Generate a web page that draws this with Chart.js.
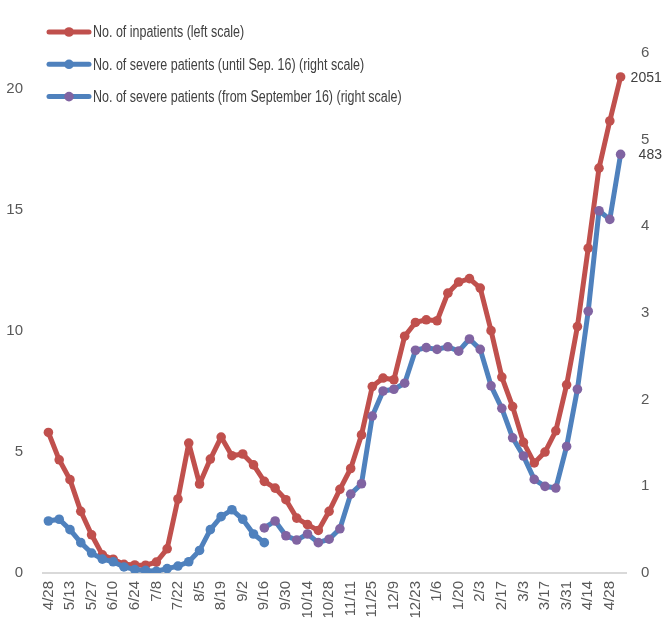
<!DOCTYPE html>
<html>
<head>
<meta charset="utf-8">
<title>Inpatients and severe patients</title>
<script src="https://cdn.jsdelivr.net/npm/chart.js@4/dist/chart.umd.min.js"></script>
<style>
  html, body { margin: 0; padding: 0; background: #fff; }
  #wrap { width: 666px; height: 620px; }
</style>
</head>
<body>
<div id="wrap"><canvas id="chart" width="666" height="620"></canvas></div>
<script>
  'use strict';

  // Every other week gets a tick label
  const weekTicks = ['4/28', '5/13', '5/27', '6/10', '6/24', '7/8', '7/22', '8/5', '8/19', '9/2',
    '9/16', '9/30', '10/14', '10/28', '11/11', '11/25', '12/9', '12/23', '1/6', '1/20',
    '2/3', '2/17', '3/3', '3/17', '3/31', '4/14', '4/28'];

  // Axis ticks, in people (labels show hundreds)
  const leftTicks = [0, 500, 1000, 1500, 2000];
  const rightTicks = [0, 100, 200, 300, 400, 500, 600];

  // Weekly counts (people)
  const inpatients = [581, 468, 386, 255, 158, 75, 57, 36, 33, 32,
    45, 100, 306, 537, 368, 471, 562, 485, 492, 447,
    379, 351, 303, 227, 200, 176, 255, 346, 432, 571,
    771, 806, 799, 979, 1036, 1047, 1043, 1157, 1203, 1217,
    1178, 1002, 810, 688, 540, 455, 500, 588, 778, 1019,
    1343, 1674, 1869, 2051];

  const severeOld = [60, 62, 50, 35, 23, 16, 13, 7, 4, 3,
    2, 5, 8, 13, 26, 50, 65, 73, 62, 45,
    35];

  const severeNew = [null, null, null, null, null, null, null, null, null, null,
    null, null, null, null, null, null, null, null, null, null,
    52, 60, 43, 38, 45, 35, 39, 51, 91, 103,
    181, 210, 212, 219, 257, 260, 258, 261, 256, 270,
    258, 216, 190, 156, 135, 108, 100, 98, 146, 212,
    302, 418, 408, 483];

  const seriesNames = [
    'No. of inpatients (left scale)',
    'No. of severe patients (until Sep. 16) (right scale)',
    'No. of severe patients (from September 16) (right scale)'
  ];

  const RED = '#C0504D';
  const BLUE = '#4F81BD';
  const PURPLE = '#8064A2';

  // 54 weekly categories, labelled on the even weeks only
  const weeks = [];
  for (let i = 0; i < inpatients.length; i++) {
    weeks.push(i % 2 === 0 ? weekTicks[i / 2] : '');
  }

  const LINE_W = 5;
  const POINT_R = 4.8;

  function lineDataset(label, data, line, point, axis, order, extra) {
    return Object.assign({
      label: label,
      data: data,
      yAxisID: axis,
      order: order,
      borderColor: line,
      backgroundColor: point,
      pointBackgroundColor: point,
      pointBorderColor: point,
      borderWidth: LINE_W,
      pointRadius: POINT_R,
      pointBorderWidth: 0,
      borderJoinStyle: 'round',
      borderCapStyle: 'round',
      tension: 0,
      spanGaps: false
    }, extra || {});
  }

  /**
   * Key in the top left: line sample with marker, then the name
   * (text squeezed horizontally to get a narrow face)
   */
  const seriesKey = {
    id: 'seriesKey',
    afterDraw(chart) {
      const ctx = chart.ctx;
      chart.data.datasets.forEach((ds, i) => {
        const y = 32 + i * 32.3;
        ctx.save();
        ctx.strokeStyle = ds.borderColor;
        ctx.lineWidth = LINE_W;
        ctx.lineCap = 'round';
        ctx.beginPath();
        ctx.moveTo(49, y);
        ctx.lineTo(89, y);
        ctx.stroke();
        ctx.fillStyle = ds.pointBackgroundColor;
        ctx.beginPath();
        ctx.arc(69, y, POINT_R, 0, Math.PI * 2);
        ctx.fill();
        ctx.fillStyle = '#404040';
        ctx.font = "16px 'Liberation Sans', Arial, sans-serif";
        ctx.textBaseline = 'middle';
        ctx.textAlign = 'left';
        ctx.translate(93, y + 1);
        ctx.scale(0.78, 1);
        ctx.fillText(ds.label, 0, 0);
        ctx.restore();
      });
    }
  };

  /**
   * Value label next to the last point of a series
   */
  const endLabels = {
    id: 'endLabels',
    afterDatasetsDraw(chart) {
      const ctx = chart.ctx;
      ctx.save();
      ctx.font = "14px 'Liberation Sans', Arial, sans-serif";
      ctx.fillStyle = '#404040';
      ctx.textBaseline = 'middle';
      ctx.textAlign = 'left';
      chart.data.datasets.forEach((ds, i) => {
        if (ds.endLabelOffset === undefined) return;
        const last = ds.data.length - 1;
        const pt = chart.getDatasetMeta(i).data[last];
        if (!pt) return;
        ctx.fillText(String(ds.data[last]), pt.x + ds.endLabelOffset, pt.y + 1);
      });
      ctx.restore();
    }
  };

  const tickFont = { family: "'Liberation Sans', Arial, sans-serif", size: 15 };
  const tickColor = '#595959';

  new Chart(document.getElementById('chart'), {
    type: 'line',
    data: {
      labels: weeks,
      datasets: [
        lineDataset(seriesNames[0], inpatients, RED, RED, 'yLeft', 2, { endLabelOffset: 10 }),
        lineDataset(seriesNames[1], severeOld, BLUE, BLUE, 'yRight', 1),
        lineDataset(seriesNames[2], severeNew, BLUE, PURPLE, 'yRight', 0, { endLabelOffset: 18 })
      ]
    },
    options: {
      responsive: false,
      animation: false,
      layout: { padding: { top: 53, left: 0, right: 0, bottom: 0 } },
      plugins: {
        legend: { display: false },
        tooltip: { enabled: false }
      },
      scales: {
        x: {
          type: 'category',
          offset: true,
          grid: { display: false, drawTicks: false, offset: true },
          border: { display: true, color: '#D9D9D9', width: 2 },
          ticks: {
            autoSkip: false,
            maxRotation: 90,
            minRotation: 90,
            padding: 8,
            color: tickColor,
            font: tickFont
          },
          afterFit(scale) { scale.height = 47; }
        },
        yLeft: {
          type: 'linear',
          position: 'left',
          min: 0,
          max: 2150,
          grid: { display: false, drawTicks: false },
          border: { display: false },
          afterBuildTicks(scale) { scale.ticks = leftTicks.map(v => ({ value: v })); },
          ticks: {
            autoSkip: false,
            padding: 20,
            color: tickColor,
            font: tickFont,
            callback: (v) => v / 100
          },
          afterFit(scale) { scale.width = 43; }
        },
        yRight: {
          type: 'linear',
          position: 'right',
          min: 0,
          max: 600,
          grid: { display: false, drawTicks: false },
          border: { display: false },
          afterBuildTicks(scale) { scale.ticks = rightTicks.map(v => ({ value: v })); },
          ticks: {
            autoSkip: false,
            padding: 15,
            color: tickColor,
            font: tickFont,
            callback: (v) => v / 100
          },
          afterFit(scale) { scale.width = 40; }
        }
      }
    },
    plugins: [seriesKey, endLabels]
  });
</script>
</body>
</html>
